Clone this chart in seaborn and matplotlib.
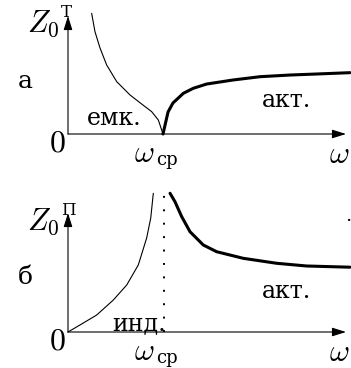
import matplotlib
matplotlib.use("Agg")
import matplotlib.pyplot as plt
import seaborn as sns

sns.set_theme(style="white")
plt.rcParams["mathtext.fontset"] = "cm"
plt.rcParams["font.family"] = ["DejaVu Serif"]

# Frequency axis in units of the cut-off frequency omega_cp
w_cp = 1.0

# (а) T-section: capacitive branch below cut-off, active branch above
top_cap_x = [0.249, 0.284, 0.337, 0.407, 0.513, 0.653, 0.789, 0.881, 0.951, 1.0]
top_cap_y = [2.01, 1.705, 1.433, 1.15, 0.872, 0.65, 0.483, 0.372, 0.233, 0.0]
top_act_x = [1.0, 1.053, 1.105, 1.214, 1.319, 1.46, 1.737, 2.021, 2.337, 2.618, 2.968]
top_act_y = [0.0, 0.367, 0.517, 0.678, 0.762, 0.833, 0.9, 0.955, 0.983, 1.0, 1.022]

# (б) П-section: inductive branch below cut-off, active branch above
bot_ind_x = [0.0, 0.126, 0.302, 0.477, 0.618, 0.74, 0.828, 0.871, 0.898]
bot_ind_y = [0.0, 0.117, 0.283, 0.533, 0.783, 1.117, 1.567, 1.9, 2.312]
bot_act_x = [1.074, 1.126, 1.197, 1.284, 1.424, 1.565, 1.845, 2.197, 2.513, 2.968]
bot_act_y = [2.312, 2.172, 1.922, 1.672, 1.45, 1.338, 1.228, 1.145, 1.10, 1.08]

W, H = 351, 368
fig = plt.figure(figsize=(W / 100, H / 100), dpi=100)

X0 = 68          # vertical axis position, px
XSCALE = 95      # px per unit of omega
YSCALE = 60      # px per unit of Z


def make_axes(py_top, py_bottom):
    ax = fig.add_axes([X0 / W, 1 - py_bottom / H, (W - X0) / W, (py_bottom - py_top) / H])
    ax.set_xlim(0, (W - X0) / XSCALE)
    ax.set_ylim(0, (py_bottom - py_top) / YSCALE)
    ax.set_axis_off()
    ax.patch.set_alpha(0)
    return ax


def draw_arrows(ax, x_tip, y_tip):
    style = dict(arrowstyle="-|>,head_length=0.7,head_width=0.22", lw=0.8,
                 color="black", mutation_scale=12, shrinkA=0, shrinkB=0)
    ax.annotate("", xy=(x_tip, 0), xytext=(0, 0), arrowprops=style, annotation_clip=False)
    ax.annotate("", xy=(0, y_tip), xytext=(0, 0), arrowprops=style, annotation_clip=False)


def ftext(px, py, s, size, ha="left", va="baseline", **kw):
    fig.text(px / W, 1 - py / H, s, fontsize=size, ha=ha, va=va, color="black", **kw)


def panel_labels(dy, sup):
    # axis name Z_0 with the section letter as superscript
    ftext(27, 32 + dy, r"$Z_0$", 22)
    ftext(61, 17 + dy, sup, 12)
    # origin, cut-off frequency and frequency axis name
    ftext(57, 151 + dy, r"$0$", 23, ha="center")
    ftext(134, 162 + dy, r"$\omega$", 22)
    ftext(156, 165 + dy, "ср", 13)
    ftext(329, 163 + dy, r"$\omega$", 22)


ax1 = make_axes(10, 134)
draw_arrows(ax1, (346 - X0) / XSCALE, (134 - 16) / YSCALE)
sns.lineplot(x=top_cap_x, y=top_cap_y, ax=ax1, color="black", lw=0.8, sort=False, estimator=None)
sns.lineplot(x=top_act_x, y=top_act_y, ax=ax1, color="black", lw=2.2, sort=False, estimator=None)
for ln in ax1.lines:
    ln.set_clip_on(False)

ax2 = make_axes(184, 332)
draw_arrows(ax2, (346 - X0) / XSCALE, (332 - 213) / YSCALE)
sns.lineplot(x=bot_ind_x, y=bot_ind_y, ax=ax2, color="black", lw=0.8, sort=False, estimator=None)
sns.lineplot(x=bot_act_x, y=bot_act_y, ax=ax2, color="black", lw=2.2, sort=False, estimator=None)
ax2.plot([w_cp + 0.01, w_cp + 0.01], [0, 2.35], color="black", lw=1.4,
         linestyle=(0, (1, 5.9)), dash_capstyle="butt")
for ln in ax2.lines:
    ln.set_clip_on(False)

panel_labels(0, "Т")
panel_labels(198, "П")

ftext(25, 88, "а", 18, ha="center")
ftext(25, 284, "б", 18, ha="center")
ftext(87, 125, "емк.", 17)
ftext(262, 107, "акт.", 17)
ftext(262, 298, "акт.", 17)
ftext(112, 330, "инд.", 17)
ftext(345, 221, ".", 14)

fig.savefig("out.png", dpi=100)
